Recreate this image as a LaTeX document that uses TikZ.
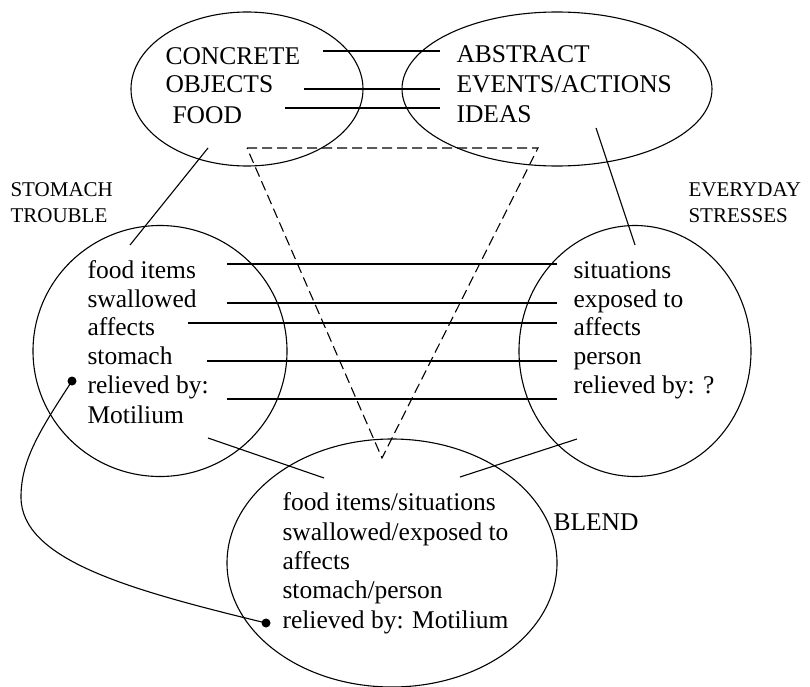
\documentclass[tikz,border=0pt]{standalone}
\usepackage{fontspec}
\setmainfont{Liberation Serif}
\usetikzlibrary{shapes.geometric}
\begin{document}
\begin{tikzpicture}[x=1pt,y=-1pt,
  every path/.style={line width=1.1pt},
  space/.style={draw, ellipse, inner sep=0pt},
  word/.style={anchor=base west, inner sep=0pt, font=\fontsize{25.5}{29.5}\selectfont},
  tag/.style={anchor=base west, inner sep=0pt, font=\fontsize{21}{26}\selectfont},
  dot/.style={circle, fill, inner sep=0pt, minimum size=9pt}]
\useasboundingbox (0,0) rectangle (810,687);

% mental spaces
\node[space, minimum width=232pt, minimum height=154pt] (generic1) at (247,89) {};
\node[space, minimum width=310pt, minimum height=154pt] (generic2) at (557,89) {};
\node[space, minimum width=254pt, minimum height=251pt] (input1) at (160,351) {};
\node[space, minimum width=232pt, minimum height=251pt] (input2) at (635,351) {};
\node[space, minimum width=330pt, minimum height=248pt] (blend) at (392,563) {};

% generic space texts
\node[word] (concrete) at (165,65) {CONCRETE};
\node[word] (objects) at (165,93) {OBJECTS};
\node[word] (food) at (172,124) {FOOD};
\node[word] (abstract) at (456,63) {ABSTRACT};
\node[word] (events) at (456,93) {EVENTS/ACTIONS};
\node[word] (ideas) at (456,123) {IDEAS};

% input space labels
\node[tag] (stomach) at (10,196) {STOMACH};
\node[tag] (trouble) at (10,222) {TROUBLE};
\node[tag] (everyday) at (688,196) {EVERYDAY};
\node[tag] (stresses) at (688,222) {STRESSES};

% input 1
\node[word] (a1) at (87,278) {food items};
\node[word] (a2) at (87,307) {swallowed};
\node[word] (a3) at (87,335) {affects};
\node[word] (a4) at (87,364) {stomach};
\node[word] (a5) at (87,393) {relieved by:};
\node[word] (a6) at (87,423) {Motilium};

% input 2
\node[word] (b1) at (573,278) {situations};
\node[word] (b2) at (573,307) {exposed to};
\node[word] (b3) at (573,335) {affects};
\node[word] (b4) at (573,364) {person};
\node[word] (b5) at (573,393) {relieved by: ?};

% blend
\node[word] (c1) at (282,510) {food items/situations};
\node[word] (c2) at (282,540) {swallowed/exposed to};
\node[word] (c3) at (282,569) {affects};
\node[word] (c4) at (282,598) {stomach/person};
\node[word] (c5) at (282,628) {relieved by: Motilium};
\node[word] (blendlabel) at (553,530) {BLEND};

% end points of the cross-space mappings
\coordinate (g1l) at (323,51);  \coordinate (g1r) at (440,51);
\coordinate (g2l) at (304,89);  \coordinate (g2r) at (440,89);
\coordinate (g3l) at (285,108); \coordinate (g3r) at (440,108);
\coordinate (m1l) at (227,264); \coordinate (m1r) at (557,264);
\coordinate (m2l) at (227,303); \coordinate (m2r) at (557,303);
\coordinate (m3l) at (188,323); \coordinate (m3r) at (557,323);
\coordinate (m4l) at (207,361); \coordinate (m4r) at (557,361);
\coordinate (m5l) at (227,399); \coordinate (m5r) at (557,399);
\coordinate (p1a) at (208,148); \coordinate (p1b) at (130,245);
\coordinate (p2a) at (596,128); \coordinate (p2b) at (635,245);
\coordinate (q1a) at (208,438); \coordinate (q1b) at (324,478);
\coordinate (q2a) at (460,477); \coordinate (q2b) at (577,439);
\coordinate (t1) at (247,148);  \coordinate (t2) at (538,148);
\coordinate (t3) at (382,458);

% mappings
\draw (g1l) -- (g1r);
\draw (g2l) -- (g2r);
\draw (g3l) -- (g3r);
\draw (m1l) -- (m1r);
\draw (m2l) -- (m2r);
\draw (m3l) -- (m3r);
\draw (m4l) -- (m4r);
\draw (m5l) -- (m5r);

% projections between spaces
\draw (p1a) -- (p1b);
\draw (p2a) -- (p2b);
\draw (q1a) -- (q1b);
\draw (q2a) -- (q2b);
\draw[dash pattern=on 10pt off 5pt] (t1) -- (t2) -- (t3) -- cycle;

% link from input 1 into the blend
\node[dot] (d1) at (72,381) {};
\node[dot] (d2) at (266,623) {};
\draw (d1.center) .. controls (40,430) and (21,460) .. (21,497)
      .. controls (21,560) and (130,590) .. (d2.center);
\end{tikzpicture}
\end{document}
